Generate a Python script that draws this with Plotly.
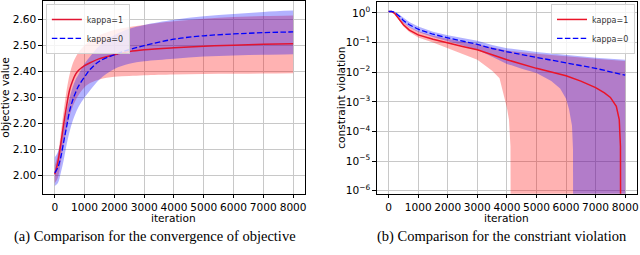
import plotly.graph_objects as go

# ---------------- (a) objective value ----------------
iters_a = [0, 100, 200, 300, 400, 500, 600, 700, 800, 1000, 1200, 1500, 2000, 2500, 3000, 4000, 5000, 6000, 7000, 8000]
obj_k1_mean = [2.005, 2.05, 2.12, 2.20, 2.27, 2.33, 2.365, 2.39, 2.405, 2.423, 2.435, 2.45, 2.465, 2.477, 2.484, 2.492, 2.498, 2.502, 2.505, 2.507]
obj_k1_upper = [2.04, 2.08, 2.16, 2.25, 2.33, 2.39, 2.43, 2.455, 2.475, 2.502, 2.52, 2.54, 2.56, 2.572, 2.58, 2.594, 2.604, 2.61, 2.614, 2.616]
obj_k1_lower = [1.97, 1.99, 2.05, 2.12, 2.18, 2.23, 2.265, 2.29, 2.31, 2.34, 2.357, 2.37, 2.38, 2.383, 2.386, 2.389, 2.391, 2.392, 2.393, 2.394]
obj_k0_mean = [2.01, 2.03, 2.07, 2.13, 2.19, 2.25, 2.29, 2.32, 2.345, 2.38, 2.41, 2.44, 2.465, 2.485, 2.50, 2.525, 2.538, 2.545, 2.55, 2.553]
obj_k0_upper = [2.07, 2.09, 2.13, 2.19, 2.25, 2.30, 2.34, 2.37, 2.39, 2.43, 2.46, 2.50, 2.54, 2.565, 2.58, 2.60, 2.613, 2.622, 2.63, 2.635]
obj_k0_lower = [1.96, 1.97, 2.01, 2.06, 2.12, 2.17, 2.21, 2.24, 2.265, 2.30, 2.33, 2.37, 2.41, 2.43, 2.44, 2.45, 2.458, 2.462, 2.465, 2.467]

# ---------------- (b) constraint violation ----------------
cv_k1_mean_x = [0, 100, 200, 300, 400, 500, 700, 1000, 1500, 2000, 2500, 3000, 3500, 4000, 5000, 6000, 6500, 7000, 7300, 7500, 7700, 7800, 7840, 7858]
cv_k1_mean = [1.12, 1.12, 0.977, 0.724, 0.550, 0.398, 0.263, 0.182, 0.129, 0.0955, 0.0741, 0.0575, 0.0380, 0.0263, 0.0135, 0.00759, 0.00501, 0.00302, 0.00200, 0.00141, 7.08e-4, 2.51e-4, 3.16e-5, 1e-12]
cv_k1_upper_x = [0, 100, 200, 300, 400, 500, 700, 1000, 1500, 2000, 2500, 3000, 3500, 4000, 5000, 6000, 7000, 8000]
cv_k1_upper = [1.15, 1.15, 1.02, 0.813, 0.646, 0.490, 0.339, 0.240, 0.170, 0.132, 0.107, 0.0871, 0.0676, 0.0537, 0.0417, 0.0339, 0.0282, 0.0240]
cv_k1_lower_x = [0, 100, 200, 300, 400, 500, 700, 1000, 1500, 2000, 2500, 3000, 3500, 3750, 3900, 4000, 4070, 4120, 4140, 8000]
cv_k1_lower = [1.10, 1.10, 0.933, 0.661, 0.490, 0.347, 0.229, 0.148, 0.100, 0.0631, 0.0417, 0.0263, 0.0112, 0.00631, 0.00158, 6.31e-4, 2.51e-4, 3.16e-5, 1e-12, 1e-12]
cv_k0_mean_x = [0, 100, 200, 300, 400, 500, 700, 1000, 1500, 2000, 2500, 3000, 3500, 4000, 5000, 6000, 7000, 8000]
cv_k0_mean = [1.12, 1.12, 1.05, 0.871, 0.724, 0.550, 0.398, 0.282, 0.191, 0.145, 0.112, 0.0871, 0.0631, 0.0490, 0.0316, 0.0209, 0.0135, 0.00794]
cv_k0_upper_x = [0, 100, 200, 300, 400, 500, 700, 1000, 1500, 2000, 2500, 3000, 3500, 4000, 5000, 6000, 7000, 8000]
cv_k0_upper = [1.17, 1.17, 1.12, 0.977, 0.832, 0.676, 0.490, 0.347, 0.234, 0.178, 0.141, 0.115, 0.0832, 0.0646, 0.0479, 0.0380, 0.0309, 0.0263]
cv_k0_lower_x = [0, 100, 200, 300, 400, 500, 700, 1000, 1500, 2000, 2500, 3000, 3500, 4000, 4500, 5000, 5500, 5800, 6000, 6100, 6200, 6235, 6250, 8000]
cv_k0_lower = [1.07, 1.07, 0.977, 0.776, 0.631, 0.468, 0.331, 0.229, 0.155, 0.112, 0.0832, 0.0575, 0.0331, 0.0191, 0.0132, 0.00933, 0.00501, 0.00282, 0.00126, 5.62e-4, 1.58e-4, 2.51e-5, 1e-12, 1e-12]

x_ticks = [0, 1000, 2000, 3000, 4000, 5000, 6000, 7000, 8000]
obj_ticks = [2.0, 2.1, 2.2, 2.3, 2.4, 2.5, 2.6]
cv_ticks = [1, 1e-1, 1e-2, 1e-3, 1e-4, 1e-5, 1e-6]
cv_ticktext = ["10<sup>0</sup>", "10<sup>\u22121</sup>", "10<sup>\u22122</sup>", "10<sup>\u22123</sup>",
               "10<sup>\u22124</sup>", "10<sup>\u22125</sup>", "10<sup>\u22126</sup>"]
series_names = ["kappa=1", "kappa=0"]
captions = ["(a) Comparison for the convergence of objective", "(b) Comparison for the constriant violation"]

BLUE = "blue"
RED_FILL = "rgba(255,0,0,0.3)"
BLUE_FILL = "rgba(0,0,255,0.3)"
DASH = "5.5px,2.4px"

fig = go.Figure()

def band(x_lo, lo, x_up, up, fill, xa, ya, shape="linear"):
    fig.add_trace(go.Scatter(x=x_lo, y=lo, mode="lines", line=dict(width=0, shape=shape),
                             showlegend=False, hoverinfo="skip", xaxis=xa, yaxis=ya))
    fig.add_trace(go.Scatter(x=x_up, y=up, mode="lines", line=dict(width=0, shape=shape),
                             fill="tonexty", fillcolor=fill, showlegend=False,
                             hoverinfo="skip", xaxis=xa, yaxis=ya))

# (a)
band(iters_a, obj_k1_lower, iters_a, obj_k1_upper, RED_FILL, "x", "y", "spline")
band(iters_a, obj_k0_lower, iters_a, obj_k0_upper, BLUE_FILL, "x", "y", "spline")
fig.add_trace(go.Scatter(x=iters_a, y=obj_k1_mean, mode="lines", name=series_names[0],
                         line=dict(color="rgb(225,20,50)", width=1.5, shape="spline"),
                         xaxis="x", yaxis="y", legend="legend"))
fig.add_trace(go.Scatter(x=iters_a, y=obj_k0_mean, mode="lines", name=series_names[1],
                         line=dict(color=BLUE, width=1.3, dash=DASH, shape="spline"),
                         xaxis="x", yaxis="y", legend="legend"))

# (b)
band(cv_k1_lower_x, cv_k1_lower, cv_k1_upper_x, cv_k1_upper, RED_FILL, "x2", "y2")
band(cv_k0_lower_x, cv_k0_lower, cv_k0_upper_x, cv_k0_upper, BLUE_FILL, "x2", "y2")
fig.add_trace(go.Scatter(x=cv_k1_mean_x, y=cv_k1_mean, mode="lines", name=series_names[0],
                         line=dict(color="rgb(235,20,40)", width=1.5), xaxis="x2", yaxis="y2", legend="legend2"))
fig.add_trace(go.Scatter(x=cv_k0_mean_x, y=cv_k0_mean, mode="lines", name=series_names[1],
                         line=dict(color=BLUE, width=1.3, dash=DASH), xaxis="x2", yaxis="y2", legend="legend2"))

TICKFONT = dict(family="DejaVu Sans", size=10.6, color="black")
GRID = "#c8c8c8"
common_axis = dict(showline=True, mirror=True, linecolor="black", linewidth=1,
                   ticks="outside", ticklen=3.5, tickwidth=0.8, tickcolor="black",
                   showgrid=True, gridcolor=GRID, gridwidth=1, zeroline=False,
                   tickfont=TICKFONT)

W, H = 640, 255
LEGFONT = dict(family="DejaVu Sans", size=8, color="#333")
fig.update_layout(
    width=W, height=H, margin=dict(l=0, r=0, t=0, b=0),
    paper_bgcolor="white", plot_bgcolor="white",
    xaxis=dict(domain=[43 / W, 306 / W], range=[-400, 8400], tickvals=x_ticks, anchor="y", **common_axis),
    yaxis=dict(domain=[1 - 196 / H, 1 - 1 / H], range=[1.93, 2.672], tickvals=obj_ticks,
               tickformat=".2f", anchor="x", **common_axis),
    xaxis2=dict(domain=[378 / W, 639 / W], range=[-400, 8400], tickvals=x_ticks, anchor="y2", **common_axis),
    yaxis2=dict(domain=[1 - 196 / H, 1 - 2 / H], type="log", range=[-6.1, 0.37],
                tickvals=cv_ticks, ticktext=cv_ticktext, anchor="x2", **common_axis),
    legend=dict(x=46 / W, y=1 - 4 / H, xanchor="left", yanchor="top", traceorder="normal",
                bgcolor="rgba(255,255,255,0.8)", bordercolor="#d0d0d0", borderwidth=1,
                font=LEGFONT, tracegroupgap=0, itemwidth=30),
    legend2=dict(x=637 / W, y=1 - 4 / H, xanchor="right", yanchor="top", traceorder="normal",
                 bgcolor="rgba(255,255,255,0.8)", bordercolor="#d0d0d0", borderwidth=1,
                 font=LEGFONT, tracegroupgap=0, itemwidth=30),
    showlegend=True,
)

TITLEFONT = dict(family="DejaVu Sans", size=10.6, color="black")
CAPFONT = dict(family="Liberation Serif", size=14.5, color="black")
ann = [
    dict(text="iteration", x=(43 + 306) / 2 / W, y=1 - 221 / H, xref="paper", yref="paper",
         showarrow=False, font=TITLEFONT, xanchor="center", yanchor="middle"),
    dict(text="objective value", x=5 / W, y=1 - 98 / H, xref="paper", yref="paper",
         showarrow=False, font=TITLEFONT, textangle=-90, xanchor="center", yanchor="middle"),
    dict(text="iteration", x=(378 + 639) / 2 / W, y=1 - 221 / H, xref="paper", yref="paper",
         showarrow=False, font=TITLEFONT, xanchor="center", yanchor="middle"),
    dict(text="constraint violation", x=342 / W, y=1 - 99 / H, xref="paper", yref="paper",
         showarrow=False, font=TITLEFONT, textangle=-90, xanchor="center", yanchor="middle"),
    dict(text=captions[0], x=155 / W, y=1 - 239 / H, xref="paper", yref="paper",
         showarrow=False, font=CAPFONT, xanchor="center", yanchor="middle"),
    dict(text=captions[1], x=504 / W, y=1 - 239 / H, xref="paper", yref="paper",
         showarrow=False, font=CAPFONT, xanchor="center", yanchor="middle"),
]
fig.update_layout(annotations=ann)

fig.write_html("out.html", config={"displayModeBar": False},
               post_script="document.body.style.margin='0';document.body.style.padding='0';")
